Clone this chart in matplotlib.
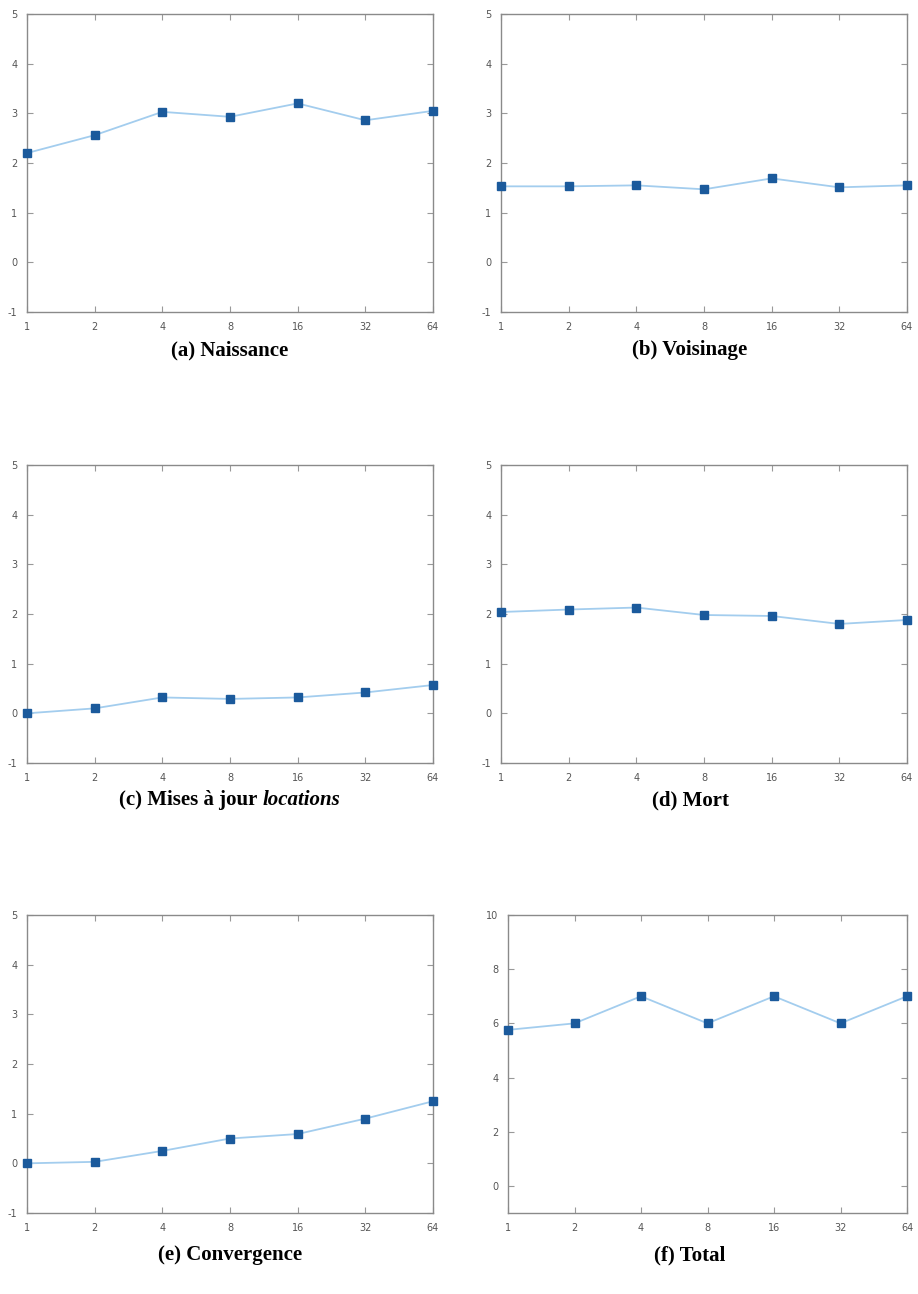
import matplotlib
matplotlib.use("Agg")
import matplotlib.pyplot as plt

plt.rcParams["axes.unicode_minus"] = False

threads = [1, 2, 4, 8, 16, 32, 64]
naissance = [2.2, 2.56, 3.03, 2.93, 3.2, 2.86, 3.05]
voisinage = [1.53, 1.53, 1.55, 1.47, 1.69, 1.51, 1.55]
locations = [0.0, 0.1, 0.32, 0.29, 0.32, 0.42, 0.57]
mort = [2.04, 2.09, 2.13, 1.98, 1.96, 1.80, 1.88]
convergence = [0.0, 0.03, 0.25, 0.5, 0.59, 0.9, 1.25]
total = [5.76, 6.0, 7.0, 6.0, 7.0, 6.0, 7.0]

panels = [
    (naissance, "(a) Naissance", None),
    (voisinage, "(b) Voisinage", None),
    (locations, "(c) Mises \u00e0 jour ", "locations"),
    (mort, "(d) Mort", None),
    (convergence, "(e) Convergence", None),
    (total, "(f) Total", None),
]

W, H = 918, 1294
fig = plt.figure(figsize=(W / 100, H / 100), dpi=100)

# pixel boxes: left, top, right, bottom
boxes = [
    (27, 14, 433, 312), (501, 14, 907, 312),
    (27, 465, 433, 763), (501, 465, 907, 763),
    (27, 915, 433, 1213), (508, 915, 907, 1213),
]
title_y = [350, 350, 800, 800, 1255, 1255]
title_x = [230, 690]

line_col = "#a3cdee"
mark_col = "#1b5a9c"

for i, (vals, title, ital) in enumerate(panels):
    l, t, r, b = boxes[i]
    ax = fig.add_axes([l / W, 1 - b / H, (r - l) / W, (b - t) / H])
    ax.plot(threads, vals, color=line_col, lw=1.3, marker="s", ms=5.5,
            mfc=mark_col, mec=mark_col, clip_on=False, zorder=3)
    ax.set_xscale("log", base=2)
    ax.set_xlim(1, 64)
    ax.set_xticks(threads)
    ax.set_xticklabels([str(v) for v in threads])
    ax.minorticks_off()
    if i == 5:
        ax.set_ylim(-1, 10)
        ax.set_yticks([0, 2, 4, 6, 8, 10])
    else:
        ax.set_ylim(-1, 5)
        ax.set_yticks(range(-1, 6))
    ax.tick_params(direction="in", length=4, width=0.8, color="#999999",
                   labelsize=7, labelcolor="#555555", top=True, right=True)
    ax.tick_params(axis="y", pad=7)
    ax.tick_params(axis="x", pad=7)
    for s in ax.spines.values():
        s.set_color("#8a8a8a")
        s.set_linewidth(1.0)

    tx = title_x[i % 2] / W
    ty = 1 - title_y[i] / H
    if ital is None:
        fig.text(tx, ty, title, ha="center", va="center",
                 family="Liberation Serif", weight="bold", fontsize=15)
    else:
        # bold part then bold italic part, centred together
        rend = fig.canvas.get_renderer()
        a = fig.text(0, ty, title, ha="left", va="center",
                     family="Liberation Serif", weight="bold", fontsize=15)
        bb = fig.text(0, ty, ital, ha="left", va="center",
                      family="Liberation Serif", weight="bold", style="italic",
                      fontsize=15)
        wa = a.get_window_extent(rend).width
        wb = bb.get_window_extent(rend).width
        x0 = tx * W - (wa + wb) / 2
        a.set_x(x0 / W)
        bb.set_x((x0 + wa) / W)

fig.savefig("out.png", dpi=100)
